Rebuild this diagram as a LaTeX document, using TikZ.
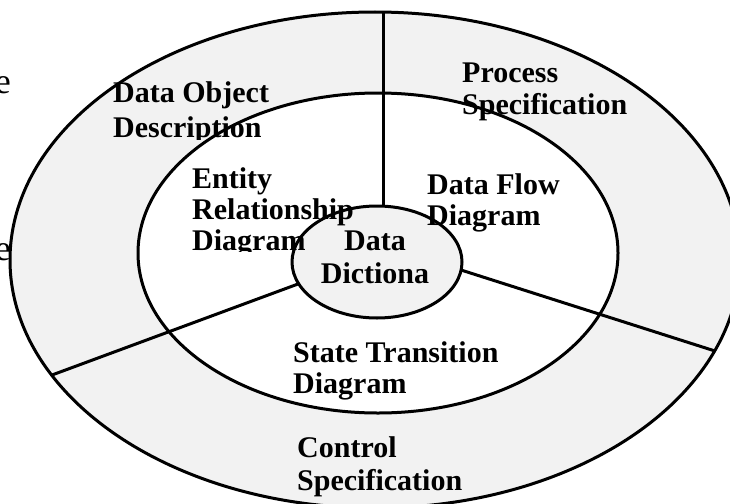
\documentclass[tikz,border=0pt]{standalone}
\usepackage{fontspec}
\setmainfont{Liberation Serif}

\begin{document}
\begin{tikzpicture}[x = 1pt, y = -1pt,
    outline/.style = {line width = 3pt},
    stipple/.style = {fill = black!5},
    label/.style = {font = \fontsize{30}{31}\selectfont\bfseries, align = left, inner sep = 0pt, anchor = base west},
    cut/.style = {font = \fontsize{36}{36}\selectfont, inner sep = 0pt, anchor = base east}]
    \useasboundingbox (0,0) rectangle (730,503);
    % shaded outer band and centre
    \fill[stipple, even odd rule] (375,260) ellipse [x radius = 365, y radius = 248]
        (378,253) ellipse [x radius = 240, y radius = 160];
    \fill[stipple] (377,262) ellipse [x radius = 85, y radius = 56];
    % labels (anchored on their last line)
    \begin{scope}
        \clip (0,0) rectangle (730,139.5);
        \node[label] (dod) at (113,137) {Data Object\\[4pt]Description};
    \end{scope}
    \node[label] (ps) at (462,114) {Process\\[1pt]Specification};
    \begin{scope}
        \clip (0,0) rectangle (730,251.5);
        \node[label] (erd) at (192,250) {Entity\\Relationship\\Diagram};
    \end{scope}
    \node[label] (dfd) at (427,225) {Data Flow\\[0pt]Diagram};
    \node[label, align = center, anchor = base] (dd) at (375,283) {Data\\[2pt]Dictiona};
    \node[label] (std) at (293,393) {State Transition\\Diagram};
    \node[label] (cs) at (297,490) {Control\\[2pt]Specification};
    \node[cut] (e1) at (11,93) {e};
    \node[cut] (e2) at (11,260) {e};
    % rings
    \draw[outline] (375,260) ellipse [x radius = 365, y radius = 248];
    \draw[outline] (378,253) ellipse [x radius = 240, y radius = 160];
    \draw[outline] (377,262) ellipse [x radius = 85, y radius = 56];
    % dividers
    \coordinate (vtop) at (383,12);
    \coordinate (vbot) at (383,206);
    \coordinate (rin) at (461,270);
    \coordinate (rout) at (715,351);
    \coordinate (lin) at (298,284);
    \coordinate (lout) at (52,375);
    \draw[outline] (vtop) -- (vbot);
    \draw[outline] (rin) -- (rout);
    \draw[outline] (lin) -- (lout);
\end{tikzpicture}
\end{document}
